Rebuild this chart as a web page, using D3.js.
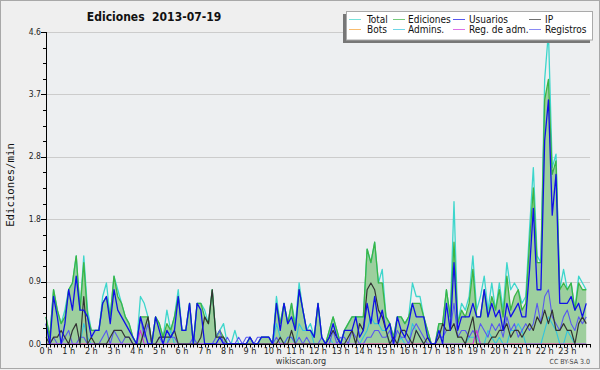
<!DOCTYPE html>
<html><head><meta charset="utf-8">
<script src="https://cdn.jsdelivr.net/npm/d3@7"></script>
<style>
html,body{margin:0;padding:0;background:#efefef;}
svg{display:block;}
text{font-family:"DejaVu Sans Condensed","DejaVu Sans",sans-serif;font-stretch:condensed;}
</style></head><body>
<svg id="c" width="600" height="370"></svg>
<script>
// ---- data (edits per minute, 10-minute buckets, 144 per day) ----
const title = "Ediciones  2013-07-19";
const yLabel = "Ediciones/min";
const yMax = 4.6;
const yTickLabels = ["0.0","0.9","1.8","2.8","3.7","4.6"];
const hourLabels = ["0 h","1 h","2 h","3 h","4 h","5 h","6 h","7 h","8 h","9 h","10 h","11 h","12 h","13 h","14 h","15 h","16 h","17 h","18 h","19 h","20 h","21 h","22 h","23 h"];
const legendNames = ["Total","Ediciones","Usuarios","IP","Bots","Admins.","Reg. de adm.","Registros"];

const total = [
0.4,0.1,0.8,0.5,0.3,0.5,0.8,0.9,1.3,0.5,
1.3,0.5,0.2,0.2,0.2,0.7,0.9,0.4,1.0,0.8,
0.6,0.4,0.3,0.1,0.0,0.7,0.6,0.4,0.0,0.4,
0.3,0.1,0.5,0.2,0.4,0.8,0.2,0.2,0.6,0.0,
0.6,0.6,0.5,0.3,0.8,0.1,0.2,0.3,0.0,0.0,
0.2,0.0,0.0,0.0,0.1,0.0,0.0,0.1,0.1,0.1,
0.0,0.7,0.3,0.6,0.3,0.6,0.3,0.9,0.5,0.2,
0.3,0.1,0.6,0.1,0.0,0.2,0.4,0.2,0.0,0.2,
0.3,0.4,0.4,0.4,0.4,1.4,1.2,1.5,0.9,1.1,
0.4,0.3,0.1,0.4,0.4,0.3,0.4,0.9,0.7,0.7,
0.4,0.2,0.0,0.0,0.3,0.3,0.8,0.4,2.1,0.3,
0.6,0.5,0.7,1.3,0.5,0.7,1.0,0.5,0.9,0.5,
0.9,0.5,1.2,0.8,0.9,0.8,0.6,0.7,1.7,2.6,
1.3,1.2,3.9,4.6,2.6,2.8,0.8,1.1,0.8,0.9,
0.5,1.0,0.9,0.8];

const ediciones = [
0.4,0.1,0.8,0.5,0.3,0.4,0.8,0.9,1.3,0.5,
1.2,0.4,0.2,0.2,0.2,0.6,0.7,0.4,1.0,0.7,
0.6,0.4,0.3,0.1,0.0,0.4,0.4,0.4,0.0,0.4,
0.3,0.1,0.3,0.2,0.4,0.7,0.2,0.2,0.6,0.0,
0.6,0.6,0.4,0.3,0.8,0.1,0.2,0.1,0.0,0.0,
0.0,0.0,0.0,0.0,0.1,0.0,0.0,0.1,0.1,0.1,
0.0,0.6,0.3,0.6,0.3,0.6,0.2,0.8,0.5,0.2,
0.2,0.1,0.6,0.1,0.0,0.2,0.4,0.2,0.0,0.2,
0.3,0.4,0.4,0.4,0.4,1.4,1.2,1.5,0.9,0.9,
0.4,0.3,0.1,0.4,0.4,0.3,0.4,0.6,0.6,0.6,
0.4,0.2,0.0,0.0,0.3,0.3,0.8,0.4,1.5,0.3,
0.5,0.4,0.6,1.1,0.4,0.4,0.8,0.4,0.7,0.5,
0.8,0.4,1.0,0.5,0.7,0.8,0.5,0.6,1.5,2.3,
1.2,1.2,3.6,3.9,2.5,2.7,0.8,0.9,0.8,0.9,
0.5,0.9,0.8,0.8];

const usuarios = [
0.3,0.0,0.7,0.4,0.0,0.3,0.8,0.5,1.0,0.5,
0.5,0.4,0.1,0.2,0.2,0.6,0.7,0.3,0.8,0.5,
0.4,0.3,0.2,0.1,0.0,0.4,0.2,0.0,0.0,0.4,
0.2,0.0,0.2,0.1,0.2,0.7,0.2,0.2,0.6,0.0,
0.6,0.5,0.0,0.0,0.0,0.0,0.1,0.0,0.0,0.0,
0.0,0.0,0.0,0.0,0.1,0.0,0.0,0.1,0.1,0.1,
0.0,0.6,0.2,0.6,0.3,0.4,0.2,0.8,0.5,0.2,
0.2,0.1,0.6,0.1,0.0,0.1,0.3,0.1,0.0,0.2,
0.2,0.2,0.4,0.1,0.2,0.6,0.3,0.7,0.3,0.5,
0.2,0.3,0.0,0.4,0.2,0.1,0.3,0.6,0.4,0.4,
0.4,0.1,0.0,0.0,0.2,0.0,0.6,0.2,1.2,0.2,
0.4,0.4,0.4,0.6,0.4,0.4,0.8,0.4,0.6,0.4,
0.5,0.2,0.6,0.4,0.5,0.6,0.4,0.4,1.1,2.0,
0.8,0.8,3.0,3.6,1.9,2.5,0.6,0.6,0.6,0.7,
0.5,0.6,0.4,0.6];

const ip = [
0.1,0.0,0.1,0.1,0.2,0.1,0.0,0.2,0.3,0.0,
0.7,0.0,0.1,0.0,0.0,0.0,0.0,0.1,0.2,0.2,
0.2,0.1,0.1,0.0,0.0,0.0,0.2,0.4,0.0,0.0,
0.1,0.1,0.1,0.1,0.2,0.0,0.0,0.0,0.0,0.0,
0.0,0.1,0.4,0.3,0.8,0.1,0.1,0.1,0.0,0.0,
0.0,0.0,0.0,0.0,0.0,0.0,0.0,0.0,0.0,0.0,
0.0,0.0,0.1,0.0,0.0,0.2,0.0,0.0,0.0,0.0,
0.0,0.0,0.0,0.0,0.0,0.1,0.2,0.1,0.0,0.0,
0.1,0.2,0.0,0.3,0.2,0.8,0.9,0.8,0.5,0.4,
0.2,0.0,0.1,0.0,0.2,0.2,0.1,0.0,0.2,0.1,
0.0,0.1,0.0,0.0,0.1,0.3,0.2,0.2,0.3,0.1,
0.1,0.0,0.2,0.4,0.0,0.0,0.0,0.0,0.1,0.1,
0.2,0.2,0.3,0.1,0.2,0.2,0.1,0.2,0.3,0.2,
0.4,0.3,0.5,0.3,0.5,0.2,0.2,0.3,0.2,0.2,
0.0,0.3,0.4,0.3];

const bots = new Array(144).fill(0);

const admins = [
0,0,0,0,0,0,0,0,0,0,
0.3,0.1,0,0,0,0,0,0,0,0,
0,0,0,0,0,0,0,0,0,0,
0,0,0,0.2,0,0,0,0,0,0,
0,0,0,0,0,0,0,0,0,0,
0,0,0,0,0,0,0,0,0,0,
0,0.3,0.1,0,0.1,0.1,0,0.3,0.2,0.2,
0.2,0,0,0,0,0.1,0,0,0,0,
0,0,0,0,0.1,0.2,0.4,0.3,0.3,0.2,
0.2,0,0,0,0.1,0,0,0.3,0.2,0.1,
0,0,0,0,0,0,0,0,0,0,
0,0,0.1,0.1,0.1,0,0,0.2,0.1,0,
0.1,0,0,0.2,0.2,0.3,0.2,0,0,0,
0,0,0.2,0.4,0.3,0.2,0,0,0.2,0.1,
0,0,0,0];

const regAdm = [
0,0,0,0,0,0,0,0,0,0,
0,0,0,0,0,0,0,0,0,0,
0,0,0,0,0,0.2,0,0,0,0,
0,0,0,0,0,0,0,0,0,0,
0,0,0,0,0,0,0,0,0,0,
0,0,0,0,0,0,0,0,0,0,
0,0,0,0,0,0,0,0,0,0,
0,0,0,0,0,0,0,0,0,0,
0,0,0,0,0,0,0,0,0,0,
0,0,0,0,0,0,0,0,0,0,
0,0,0,0,0,0,0,0,0,0,
0,0,0,0,0.2,0,0,0,0,0,
0,0,0,0,0,0,0,0,0,0,
0,0,0,0,0,0,0,0,0,0,
0,0,0,0];

const registros = [
0,0,0.1,0,0,0.1,0.2,0,0,0.1,
0.1,0,0,0,0,0.1,0.2,0,0.2,0.1,
0,0.1,0.1,0,0,0.4,0.1,0.3,0,0,
0.1,0,0,0.1,0.1,0,0,0,0,0.1,
0,0,0,0,0,0.1,0.2,0,0.1,0,
0,0.1,0,0.1,0.1,0,0.1,0.1,0.1,0.1,
0,0.1,0,0,0.1,0.1,0,0.1,0,0.1,
0,0,0,0.1,0,0,0.2,0,0.1,0.1,
0,0.2,0.1,0,0,0.1,0.1,0.2,0.2,0.1,
0.1,0.2,0,0.2,0.1,0.1,0,0.2,0.3,0.2,
0.1,0,0,0,0.1,0.1,0.2,0.2,0.6,0.1,
0.2,0.2,0.1,0.2,0.1,0.3,0.2,0.1,0.3,0.2,
0.3,0.1,0.4,0.2,0.3,0.1,0.2,0.3,0.2,0.3,
0.6,0.3,0.7,0.8,0.4,0.3,0.2,0.4,0.5,0.3,
0.2,0.4,0.3,0.4];

// ---- drawing ----
const colors = {
  total:"#3dd6cc", ediciones:"#3cb544", edFill:"#99cc99", usuarios:"#1010e8",
  ip:"#333333", bots:"#f5a030", admins:"#33c4dd", regAdm:"#cc33dd", registros:"#5858f0"
};
const svg = d3.select("#c");
const W = 600, H = 370;
const L = 46, R = 590, T = 32, B = 344;

svg.append("rect").attr("x",0.5).attr("y",0.5).attr("width",W-1).attr("height",H-2)
  .attr("fill","#efefef").attr("stroke","#a8a8a8");
svg.append("rect").attr("x",L).attr("y",T).attr("width",R-L).attr("height",B-T).attr("fill","#edeff1");

const x = d3.scaleLinear().domain([0,144]).range([L,R]);
const y = d3.scaleLinear().domain([0,yMax]).range([B,T]);

const majorVals = d3.range(0,6).map(k=>k*yMax/5);
const minorVals = d3.range(0,21).map(k=>k*yMax/20);

// grid
svg.append("g").selectAll("line").data(majorVals.slice(1)).join("line")
  .attr("x1",L).attr("x2",R).attr("y1",d=>Math.round(y(d))+0.5).attr("y2",d=>Math.round(y(d))+0.5)
  .attr("stroke","#cccccc").attr("stroke-width",1);

const idx = d3.range(144);
const lineGen = arr => d3.line().x(i=>x(i)).y(i=>y(arr[i]))(idx);

// Ediciones area
svg.append("path").attr("d", d3.area().x(i=>x(i)).y0(y(0)).y1(i=>y(ediciones[i]))(idx))
  .attr("fill",colors.edFill).attr("fill-opacity",0.95);

function drawLine(arr, col, w){
  svg.append("path").attr("d",lineGen(arr)).attr("fill","none").attr("stroke",col)
    .attr("stroke-width",w).attr("stroke-linejoin","round");
}
drawLine(bots, colors.bots, 1.2);
drawLine(total, colors.total, 1.3);
drawLine(ediciones, colors.ediciones, 1.3);
drawLine(admins, colors.admins, 1.1);
drawLine(registros, colors.registros, 1.1);
drawLine(regAdm, colors.regAdm, 1.1);
drawLine(ip, colors.ip, 1.2);
drawLine(usuarios, colors.usuarios, 1.3);

// axes
const yAxis = svg.append("g");
yAxis.append("line").attr("x1",L+0.5).attr("x2",L+0.5).attr("y1",T).attr("y2",B+1).attr("stroke","#000");
yAxis.selectAll("line.mi").data(minorVals).join("line").attr("class","mi")
  .attr("x1",L-3).attr("x2",L).attr("y1",d=>Math.round(y(d))+0.5).attr("y2",d=>Math.round(y(d))+0.5).attr("stroke","#000");
yAxis.selectAll("line.ma").data(majorVals).join("line").attr("class","ma")
  .attr("x1",L-5).attr("x2",L).attr("y1",d=>Math.round(y(d))+0.5).attr("y2",d=>Math.round(y(d))+0.5).attr("stroke","#000");
yAxis.selectAll("text").data(majorVals).join("text")
  .attr("x",L-5).attr("y",d=>y(d)+2.5).attr("text-anchor","end")
  .attr("font-size",8.5).attr("fill","#222").text((d,k)=>yTickLabels[k]);

const xAxis = svg.append("g");
xAxis.append("line").attr("x1",L).attr("x2",R+1).attr("y1",B+0.5).attr("y2",B+0.5).attr("stroke","#000").attr("stroke-width",1.2);
xAxis.selectAll("line.t").data(d3.range(0,145)).join("line").attr("class","t")
  .attr("x1",i=>Math.round(x(i))+0.5).attr("x2",i=>Math.round(x(i))+0.5)
  .attr("y1",B).attr("y2",B+3.5).attr("stroke","#000");
xAxis.selectAll("text").data(hourLabels).join("text")
  .attr("x",(d,k)=>x(k*6)).attr("y",B+10).attr("text-anchor","middle")
  .attr("font-size",9).attr("fill","#222").text(d=>d);

// titles
svg.append("text").attr("x",154).attr("y",21).attr("text-anchor","middle")
  .style("white-space","pre").attr("xml:space","preserve")
  .attr("font-family","DejaVu Sans").style("font-stretch","normal")
  .attr("font-weight","bold").attr("font-size",12).attr("fill","#111").text(title);
svg.append("text").attr("transform","translate(14,185) rotate(-90)").attr("text-anchor","middle")
  .style("font-family","'DejaVu Sans Mono',monospace").attr("font-size",10.7).attr("fill","#111").text(yLabel);
svg.append("text").attr("x",301).attr("y",364).attr("text-anchor","middle")
  .attr("font-size",9).attr("fill","#333").text("wikiscan.org");
svg.append("text").attr("x",590).attr("y",364).attr("text-anchor","end")
  .attr("font-size",7).attr("fill","#444").text("CC BY-SA 3.0");

// legend
const lg = svg.append("g");
lg.append("rect").attr("x",343).attr("y",14).attr("width",247).attr("height",29).attr("fill","#777");
lg.append("rect").attr("x",346.5).attr("y",11.5).attr("width",246).attr("height",28.5).attr("fill","#fff").attr("stroke","#aaa");
const legCols = [colors.total,colors.ediciones,colors.usuarios,colors.ip,colors.bots,colors.admins,colors.regAdm,colors.registros];
const colX = [349,393,453,529];
const textX = [367,408,469,545];
legendNames.forEach((n,k)=>{
  const r = Math.floor(k/4), c = k%4;
  const yy = 19.5 + r*10;
  lg.append("line").attr("x1",colX[c]).attr("x2",colX[c]+12).attr("y1",yy).attr("y2",yy)
    .attr("stroke",legCols[k]).attr("stroke-width",1).attr("stroke-opacity",0.7);
  lg.append("text").attr("x",textX[c]).attr("y",yy+3.5).attr("font-size",10).attr("fill","#111").text(n);
});
</script></body></html>
